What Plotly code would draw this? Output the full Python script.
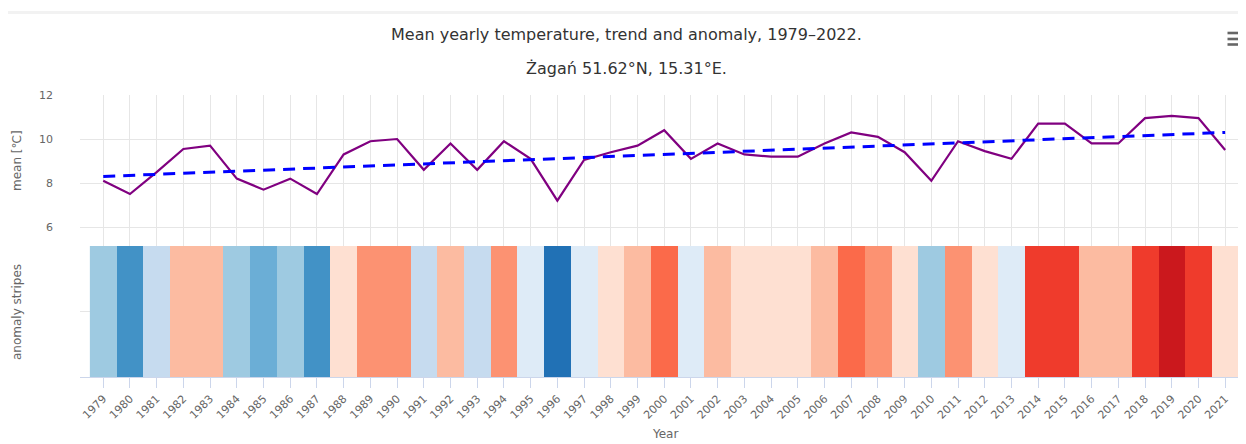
import plotly.graph_objects as go

# ---- data ----
years = list(range(1979, 2022))
mean_temp = [8.1, 7.5, 8.5, 9.55, 9.7, 8.2, 7.7, 8.2, 7.5, 9.3,
             9.9, 10.0, 8.6, 9.8, 8.6, 9.9, 9.1, 7.2, 9.05, 9.4,
             9.7, 10.4, 9.1, 9.8, 9.3, 9.2, 9.2, 9.8, 10.3, 10.1,
             9.4, 8.1, 9.9, 9.45, 9.1, 10.7, 10.7, 9.8, 9.8, 10.95,
             11.05, 10.95, 9.5]
trend_years = [1979, 2021]
trend_values = [8.3, 10.3]
y_ticks = [6, 8, 10, 12]
tick_labels = [str(y) for y in years]

# stripe colour classes (bin edges in degC and colours)
stripe_edges = [7.0, 7.35, 7.6, 7.9, 8.35, 8.8, 9.15, 9.52, 9.85, 10.2, 10.55, 11.0, 11.3]
stripe_colors = ['#2171b5', '#4292c6', '#6baed6', '#9ecae1', '#c6dbef', '#deebf7',
                 '#fee0d2', '#fcbba1', '#fc9272', '#fb6a4a', '#ef3b2c', '#cb181d']

zmin, zmax = stripe_edges[0], stripe_edges[-1]
cs = []
for i, c in enumerate(stripe_colors):
    a = (stripe_edges[i] - zmin) / (zmax - zmin)
    b = (stripe_edges[i + 1] - zmin) / (zmax - zmin)
    cs += [[a, c], [b, c]]

# ---- geometry (pixels of the screenshot; page body has an 8px margin) ----
O = 8
W, H = 1246 - O, 444 - O
L, T = 80 - O, 95 - O
plot_right, plot_bottom = 1246 - O, 377 - O
R, B = W - plot_right, H - plot_bottom
PW, PH = plot_right - L, plot_bottom - T
split = (377 - 246) / PH

def py(p):  # screenshot pixel y -> paper y
    return 1 + (T - (p - O)) / PH

def px(p):  # screenshot pixel x -> paper x
    return ((p - O) - L) / PW

fig = go.Figure()
fig.add_trace(go.Heatmap(x=years, y0=0.5, dy=1, z=[mean_temp], colorscale=cs,
                         zmin=zmin, zmax=zmax, showscale=False,
                         xaxis='x', yaxis='y2', hoverinfo='skip'))
fig.add_trace(go.Scatter(x=years, y=mean_temp, mode='lines',
                         line=dict(color='#800080', width=2.2),
                         xaxis='x2', yaxis='y', showlegend=False))
fig.add_trace(go.Scatter(x=trend_years, y=trend_values, mode='lines',
                         line=dict(color='#0000ff', width=3, dash='12px,8px'),
                         xaxis='x2', yaxis='y', showlegend=False))

axis_font = dict(family='DejaVu Sans', size=11, color='#666666')
xr = [1978.13, 2021.78]

fig.update_layout(
    template='none',
    width=W, height=H,
    margin=dict(l=L, r=R, t=T, b=B, autoexpand=False),
    paper_bgcolor='white', plot_bgcolor='white',
    showlegend=False,
    font=dict(family='DejaVu Sans', color='#333333'),
    xaxis=dict(domain=[0, 1], anchor='y2', range=xr, tickmode='array',
               tickvals=years, ticktext=tick_labels, tickangle=-45,
               ticks='outside', ticklen=10, tickcolor='#ccd6eb',
               showline=True, linecolor='#ccd6eb', linewidth=1,
               showgrid=False, zeroline=False, tickfont=axis_font,
               automargin=False),
    xaxis2=dict(domain=[0, 1], anchor='y', matches='x', range=xr,
                tickmode='array', tickvals=years, showticklabels=False,
                ticks='', showgrid=True, gridcolor='#e6e6e6', zeroline=False,
                showline=False, automargin=False),
    yaxis=dict(domain=[split, 1], anchor='x2', range=[5.14, 12],
               tickmode='array', tickvals=y_ticks, ticks='',
               showgrid=True, gridcolor='#e6e6e6', zeroline=False,
               showline=False, tickfont=axis_font, ticklabelstandoff=26,
               automargin=False),
    yaxis2=dict(domain=[0, split], anchor='x', range=[0, 1],
                tickmode='array', tickvals=[0, 0.5, 1], showticklabels=False,
                ticks='', showgrid=True, gridcolor='#e6e6e6', zeroline=False,
                showline=False, automargin=False),
)

ann = [
    dict(text='Mean yearly temperature, trend and anomaly, 1979\u20132022.',
         x=px(626), y=py(35)),
    dict(text='\u017baga\u0144 51.62\u00b0N, 15.31\u00b0E.',
         x=px(626), y=py(68)),
    dict(text='mean [\u2103]', x=px(17), y=py(161), textangle=-90),
    dict(text='anomaly stripes', x=px(17), y=py(312), textangle=-90),
    dict(text='Year', x=px(665), y=py(434)),
]
for i, a in enumerate(ann):
    a.update(xref='paper', yref='paper', showarrow=False,
             xanchor='center', yanchor='middle')
    if i < 2:
        a['font'] = dict(family='DejaVu Sans', size=16, color='#333333')
    else:
        a['font'] = dict(family='DejaVu Sans', size=12, color='#666666')
fig.update_layout(annotations=ann)

shapes = [dict(type='rect', xref='paper', yref='paper', x0=px(O - 20), x1=px(1250),
               y0=py(14), y1=py(11), fillcolor='#f2f2f2', line=dict(width=0),
               layer='above')]
for yy in (33, 39, 44.5):
    shapes.append(dict(type='rect', xref='paper', yref='paper',
                       x0=px(1227.5), x1=px(1250), y0=py(yy + 1.3), y1=py(yy - 1.3),
                       fillcolor='#666666', line=dict(width=0), layer='above'))
fig.update_layout(shapes=shapes)

fig.write_html('out.html')
